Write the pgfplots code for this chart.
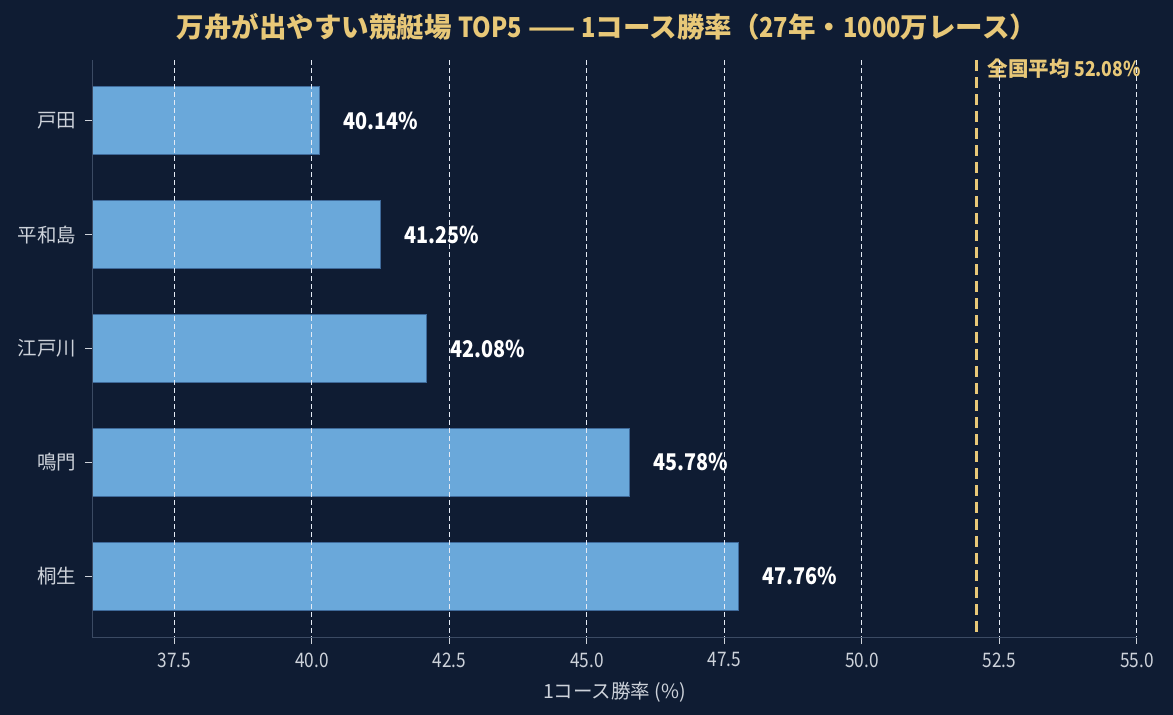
\documentclass[border=0pt]{standalone}
\usepackage{pgfplots}
\pgfplotsset{compat=1.18}
\usepackage{fontspec}
\setmainfont{Noto Sans CJK JP}
\newfontfamily\numfont{Noto Sans CJK JP}[FakeStretch=0.86]
\definecolor{bg}{HTML}{0F1C33}
\definecolor{barc}{HTML}{6AA8DA}
\definecolor{baredge}{HTML}{3F6A9A}
\definecolor{gold}{HTML}{E8C878}
\definecolor{spine}{HTML}{3B4A63}
\definecolor{lab}{HTML}{CDD2DA}
\definecolor{gridc}{HTML}{E4EAF4}
\begin{document}
\begin{tikzpicture}
\fill[bg] (0,0) rectangle (1173pt,715pt);
\begin{axis}[
  at={(92pt,78pt)}, anchor=south west,
  scale only axis, width=1045pt, height=577pt,
  xmin=36, xmax=55, ymin=-0.535, ymax=4.535, y dir=reverse,
  axis lines*=left,
  axis line style={draw=spine, line width=1pt, -},
  ytick={0,1,2,3,4},
  yticklabels={戸田,平和島,江戸川,鳴門,桐生},
  xtick={37.5,40,42.5,45,47.5,50,52.5,55},
  xticklabel style={text=lab, font=\numfont\fontsize{20}{20}\selectfont, yshift=-5pt,
    /pgf/number format/fixed, /pgf/number format/fixed zerofill,
    /pgf/number format/precision=1, /pgf/number format/assume math mode=true},
  yticklabel style={text=lab, font=\fontsize{19.5}{19.5}\selectfont, xshift=-5pt},
  tick style={draw=lab, line width=1pt},
  major tick length=7pt, tick align=outside,
  xmajorgrids=true,
  major grid style={draw=gridc, line width=1pt, dash pattern=on 5pt off 3pt},
  axis on top,
  clip=false,
  xlabel={1コース勝率 (\%)},
  xlabel style={text=lab, font=\fontsize{19.5}{19.5}\selectfont, yshift=-8pt},
]
\addplot[xbar, bar width=68pt, fill=barc, draw=baredge, line width=0.8pt,
  point meta=explicit symbolic,
  nodes near coords,
  nodes near coords style={anchor=west, xshift=20pt, text=white, font=\numfont\bfseries\fontsize{23}{23}\selectfont}]
  coordinates {
  (40.14,0) [40.14\%]
  (41.25,1) [41.25\%]
  (42.08,2) [42.08\%]
  (45.78,3) [45.78\%]
  (47.76,4) [47.76\%]
  };
\addplot[draw=gold, line width=2.6pt, dash pattern=on 11pt off 6pt] coordinates {(52.08,-0.535) (52.08,4.535)};
\node[anchor=west, text=gold, font=\bfseries\fontsize{20.5}{20.5}\selectfont, inner sep=0pt] at (axis cs:52.28,-0.46) {全国平均 {\numfont 52.08\%}};
\end{axis}
\node[text=gold, font=\bfseries\fontsize{27.5}{27.5}\selectfont] at (607pt,688.5pt) {万舟が出やすい競艇場 {\numfont TOP5} —— {\numfont 1}コース勝率（{\numfont 27}年・{\numfont 1000}万レース）};
\end{tikzpicture}
\end{document}
